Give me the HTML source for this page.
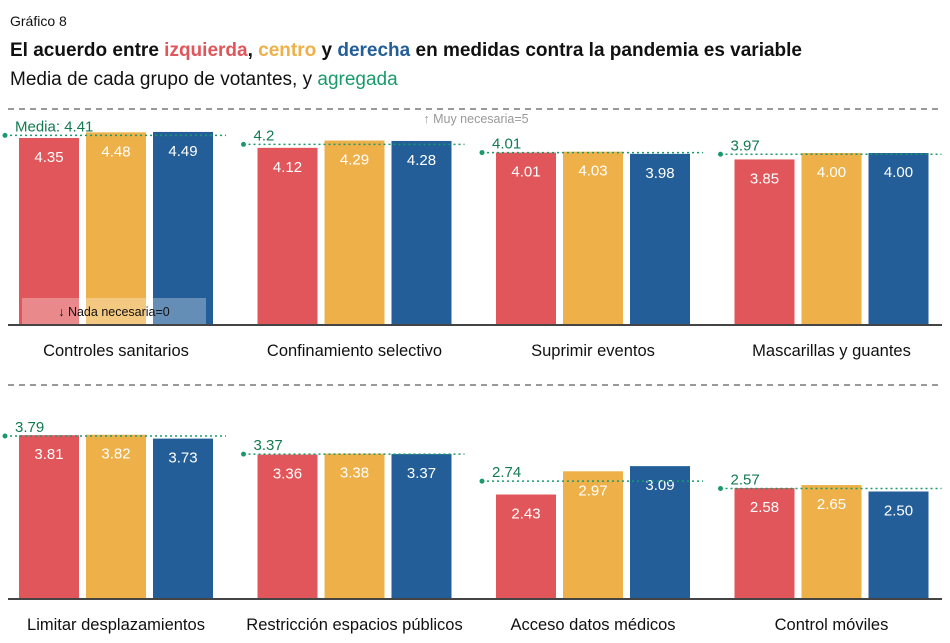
<!DOCTYPE html>
<html><head><meta charset="utf-8"><style>
body{margin:0;background:#fff;font-family:"Liberation Sans",sans-serif;}
svg text{font-family:"Liberation Sans",sans-serif;}
</style></head><body>
<svg width="950" height="638" viewBox="0 0 950 638">
<text x="10" y="26" font-size="14" fill="#111">Gráfico 8</text>
<text x="10" y="56" font-size="19" font-weight="bold" fill="#111">El acuerdo entre <tspan fill="#e0565b">izquierda</tspan>, <tspan fill="#eeb049">centro</tspan> y <tspan fill="#235e98">derecha</tspan> en medidas contra la pandemia es variable</text>
<text x="10" y="85" font-size="19" fill="#111">Media de cada grupo de votantes, y <tspan fill="#1a9a6a">agregada</tspan></text>
<g id="plot"></g>
</svg>
<script>
const categories=["Controles sanitarios","Confinamiento selectivo","Suprimir eventos","Mascarillas y guantes","Limitar desplazamientos","Restricción espacios públicos","Acceso datos médicos","Control móviles"];
const izquierda=[4.35,4.12,4.01,3.85,3.81,3.36,2.43,2.58];
const centro=[4.48,4.29,4.03,4.00,3.82,3.38,2.97,2.65];
const derecha=[4.49,4.28,3.98,4.00,3.73,3.37,3.09,2.50];
const media=[4.41,4.2,4.01,3.97,3.79,3.37,2.74,2.57];
const ns="http://www.w3.org/2000/svg";
const g=document.getElementById('plot');
function mk(t,a,p){const e=document.createElementNS(ns,t);for(const k in a)e.setAttribute(k,a[k]);(p||g).appendChild(e);return e;}
const rows=[{base:325,top:109},{base:599,top:385}];
const unit=43;
function y(v,r){return rows[r].base-v*unit;}
const colors=["#e0565b","#eeb049","#235e98"];
const series=[izquierda,centro,derecha];
rows.forEach((r,ri)=>{
  const d=mk('line',{x1:8,x2:942,y1:r.top,y2:r.top,stroke:'#999','stroke-width':2,'stroke-dasharray':'6,5'});
  
  
});
categories.forEach((c,i)=>{
  const ri=i<4?0:1, pi=i%4;
  const x0=19+pi*238.5;
  series.forEach((s,si)=>{
    const bx=x0+si*67, by=y(s[i],ri);
    const b=mk('rect',{x:bx,y:by,width:60,height:rows[ri].base-by,fill:colors[si]});
    
    
    const t=mk('text',{x:bx+30,y:by+24,'text-anchor':'middle','font-size':15,fill:'#fff'});
    t.textContent=s[i].toFixed(2);
    
    
  });
  const my=y(media[i],ri);
  const l=mk('line',{x1:x0-14,x2:x0+207,y1:my,y2:my,stroke:'#1a9a6a','stroke-width':1.5,'stroke-dasharray':'2,3'});
  
  
  const dot=mk('circle',{cx:x0-14,cy:my,r:2.5,fill:'#1a9a6a'});
  
  
  const mt=mk('text',{x:x0-4,y:my-4,'font-size':15,fill:'#137a50'});
  mt.textContent=(i===0?'Media: ':'')+media[i];
  
  
  const ct=mk('text',{x:x0+97,y:rows[ri].base+31,'text-anchor':'middle','font-size':16.5,fill:'#111'});
  ct.textContent=c;
  
  
});
rows.forEach((r,ri)=>{
  const b=mk('line',{x1:8,x2:942,y1:r.base,y2:r.base,stroke:'#444','stroke-width':2});
  
  
});
const box=mk('rect',{x:22,y:298,width:184,height:26,fill:'#fff','fill-opacity':0.3});


const nt=mk('text',{x:114,y:316,'text-anchor':'middle','font-size':12.5,fill:'#111'});
nt.textContent='↓ Nada necesaria=0';


const mx=mk('text',{x:476,y:123,'text-anchor':'middle','font-size':12.5,fill:'#999'});
mx.textContent='↑ Muy necesaria=5';


</script>
</body></html>
